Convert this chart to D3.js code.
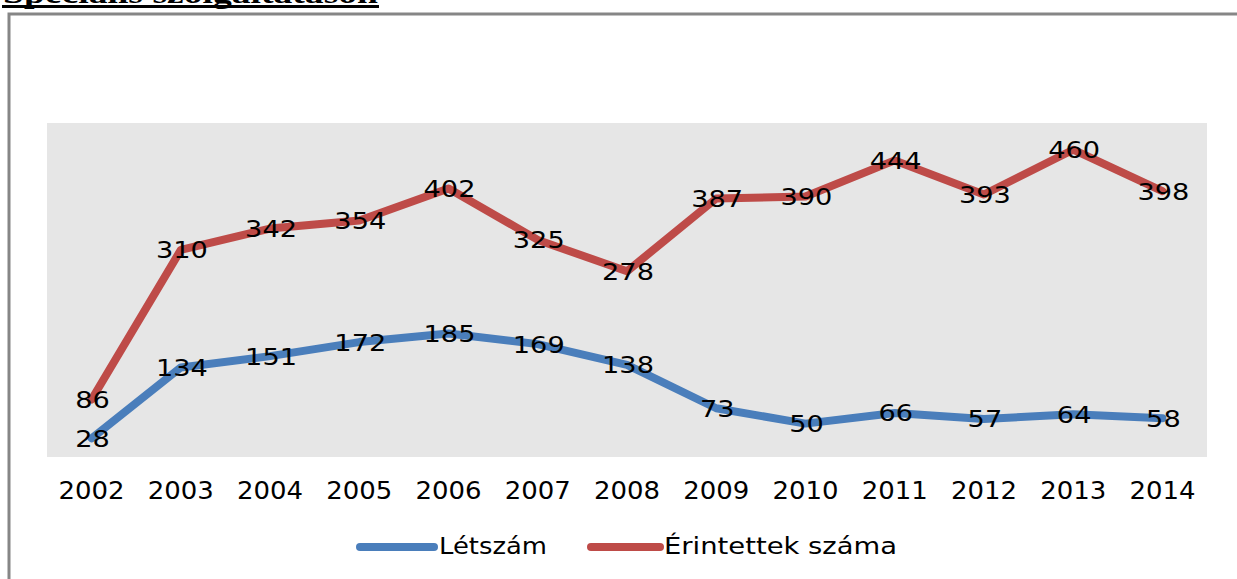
<!DOCTYPE html>
<html>
<head>
<meta charset="utf-8">
<script src="https://cdn.jsdelivr.net/npm/d3@7"></script>
<style>
body{margin:0;background:#fff;}
svg{display:block;}
</style>
</head>
<body>
<svg id="chart" width="1237" height="579"></svg>
<script>
const years = ["2002","2003","2004","2005","2006","2007","2008","2009","2010","2011","2012","2013","2014"];
const letszam = [28,134,151,172,185,169,138,73,50,66,57,64,58];
const erintettek = [86,310,342,354,402,325,278,387,390,444,393,460,398];
const seriesNames = ["Létszám","Érintettek száma"];
const seriesColors = ["#4a7ebb","#be4b48"];
const titleText = "Speciális szolgáltatáson";

const svg = d3.select("#chart");
const plot = {left:47, right:1207, top:123, bottom:457};

// title (clipped at the top in the original)
svg.append("text").attr("x",3).attr("y",3)
  .attr("font-family","Liberation Serif").attr("font-weight","bold")
  .attr("font-size",30).attr("textLength",375).attr("lengthAdjust","spacingAndGlyphs")
  .attr("fill","#000").text(titleText);
svg.append("line").attr("x1",2).attr("x2",379).attr("y1",6.5).attr("y2",6.5)
  .attr("stroke","#000").attr("stroke-width",3);

// outer border
svg.append("rect").attr("x",9).attr("y",14).attr("width",1240).attr("height",600)
  .attr("fill","none").attr("stroke","#868686").attr("stroke-width",3);

// plot background
svg.append("rect").attr("x",plot.left).attr("y",plot.top)
  .attr("width",plot.right-plot.left).attr("height",plot.bottom-plot.top)
  .attr("fill","#e6e6e6");

const x = d3.scaleBand().domain(years).range([plot.left, plot.right]);
const y = d3.scaleLinear().domain([0,500]).range([plot.bottom, plot.top]);
const cx = d => x(d) + x.bandwidth()/2;

// x axis labels
const xAxis = d3.axisBottom(x).tickSize(0).tickPadding(0);
const gx = svg.append("g").attr("transform",`translate(0,${plot.bottom})`).call(xAxis);
gx.select(".domain").remove();
gx.selectAll("text")
  .attr("y",42).attr("dy","0")
  .attr("font-family","DejaVu Sans").attr("font-size",24)
  .attr("textLength",66).attr("lengthAdjust","spacingAndGlyphs")
  .attr("fill","#000");

const allSeries = [letszam, erintettek];
const line = d3.line().x((d,i)=>cx(years[i])).y(d=>y(d));

allSeries.forEach((vals,si)=>{
  svg.append("path").datum(vals)
    .attr("d",line).attr("fill","none")
    .attr("stroke",seriesColors[si]).attr("stroke-width",8)
    .attr("stroke-linejoin","round").attr("stroke-linecap","round");
});

allSeries.forEach((vals,si)=>{
  svg.append("g").selectAll("text").data(vals).join("text")
    .attr("x",(d,i)=>cx(years[i])+1)
    .attr("y",d=>y(d)+8.5)
    .attr("text-anchor","middle")
    .attr("font-family","DejaVu Sans").attr("font-size",23.5)
    .attr("textLength",d=>String(d).length*17.3).attr("lengthAdjust","spacingAndGlyphs")
    .attr("fill","#000")
    .text(d=>d);
});

// legend
const legend = svg.append("g");
const legendItems = [{x1:360,x2:434,tx:439,tl:108},{x1:591,x2:660,tx:664,tl:233}];
legendItems.forEach((it,i)=>{
  legend.append("line").attr("x1",it.x1).attr("x2",it.x2).attr("y1",547).attr("y2",547)
    .attr("stroke",seriesColors[i]).attr("stroke-width",8).attr("stroke-linecap","round");
  legend.append("text").attr("x",it.tx).attr("y",554)
    .attr("font-family","DejaVu Sans").attr("font-size",23)
    .attr("textLength",it.tl).attr("lengthAdjust","spacingAndGlyphs")
    .attr("fill","#000")
    .text(seriesNames[i]);
});
</script>
</body>
</html>
